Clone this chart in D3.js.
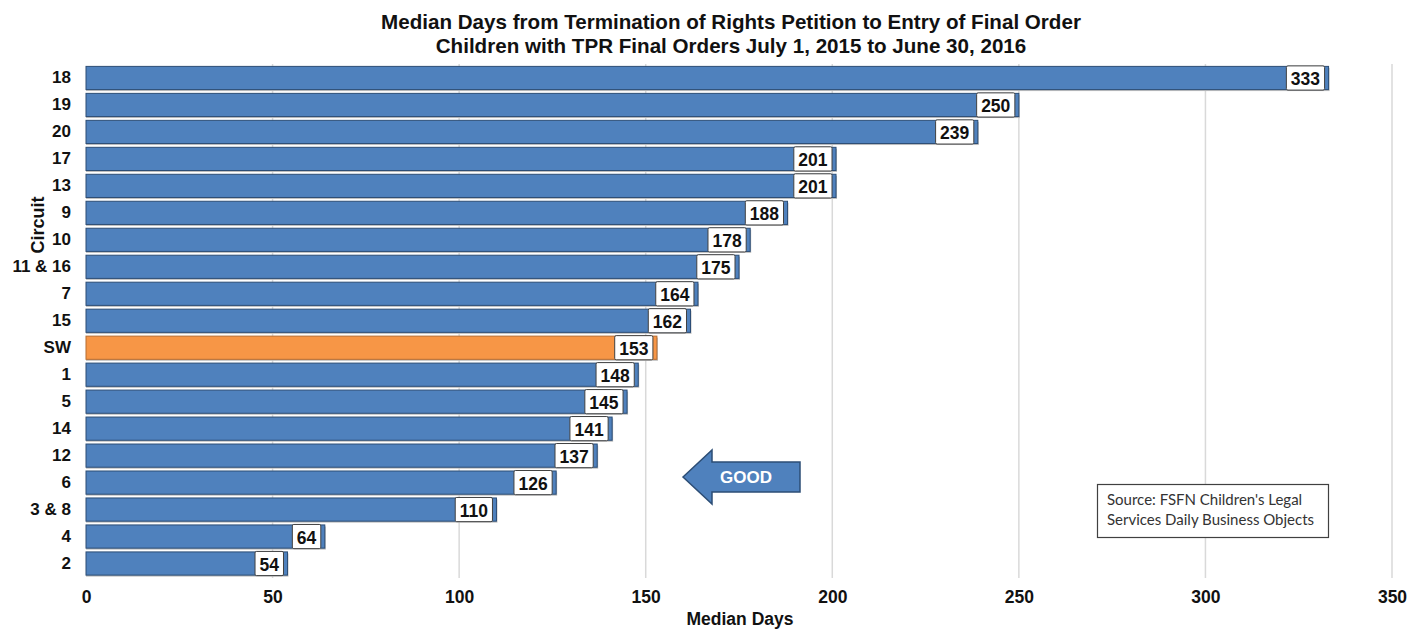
<!DOCTYPE html>
<html><head><meta charset="utf-8">
<script src="https://cdn.jsdelivr.net/npm/d3@7"></script>
<style>body{margin:0;background:#fff;}svg{display:block;}</style>
</head><body>
<script>
const categories = ["18","19","20","17","13","9","10","11 & 16","7","15","SW","1","5","14","12","6","3 & 8","4","2"];
const values = [333,250,239,201,201,188,178,175,164,162,153,148,145,141,137,126,110,64,54];
const highlight = ["SW"];
const xTicks = [0,50,100,150,200,250,300,350];
const titleLines = ["Median Days from Termination of Rights Petition to Entry of Final Order","Children with TPR Final Orders July 1, 2015 to June 30, 2016"];
const sourceLines = ["Source: FSFN Children's Legal","Services Daily Business Objects"];

const W=1424,H=629;
const svg=d3.select("body").append("svg").attr("width",W).attr("height",H);
const font="'Liberation Sans', Arial, sans-serif";
const x=d3.scaleLinear().domain([0,350]).range([86,1392]);
const y=d3.scaleBand().domain(categories).range([64.5,577]).paddingInner(0.14).paddingOuter(0.07);

// title
svg.append("g").selectAll("text").data(titleLines).join("text")
 .attr("x",731).attr("y",(d,i)=>29+i*23.5).attr("text-anchor","middle")
 .attr("font-family",font).attr("font-weight","bold").attr("font-size",20.6).attr("fill","#111").text(d=>d);

// gridlines
svg.append("g").selectAll("line").data(xTicks.filter(t=>t>0)).join("line")
 .attr("x1",d=>x(d)).attr("x2",d=>x(d)).attr("y1",64).attr("y2",578)
 .attr("stroke","#d9d9d9").attr("stroke-width",1.5);

// x axis
const xa=svg.append("g").attr("transform","translate(0,578)")
 .call(d3.axisBottom(x).tickValues(xTicks).tickSize(0).tickPadding(13));
xa.select(".domain").remove();
xa.selectAll("text").attr("font-family",font).attr("font-weight","bold").attr("font-size",17.5).attr("fill","#111");

// y axis
const ya=svg.append("g").attr("transform","translate(71,0)")
 .call(d3.axisLeft(y).tickSize(0).tickPadding(0));
ya.select(".domain").remove();
ya.selectAll("text").attr("font-family",font).attr("font-weight","bold").attr("font-size",17).attr("fill","#111");

// axis titles
svg.append("text").attr("x",740).attr("y",625).attr("text-anchor","middle")
 .attr("font-family",font).attr("font-weight","bold").attr("font-size",17.5).attr("fill","#111").text("Median Days");
svg.append("text").attr("transform","translate(44,225) rotate(-90)").attr("text-anchor","middle")
 .attr("font-family",font).attr("font-weight","bold").attr("font-size",18).attr("fill","#111").text("Circuit");

// bars
const rows=categories.map((c,i)=>({c,v:values[i]}));
const g=svg.append("g");
g.selectAll("rect.sh").data(rows).join("rect").attr("class","sh")
 .attr("x",x(0)).attr("y",d=>y(d.c)+1.5).attr("width",d=>x(d.v)-x(0)+1).attr("height",y.bandwidth())
 .attr("fill","#bfbfbf");
g.selectAll("rect.bar").data(rows).join("rect").attr("class","bar")
 .attr("x",x(0)).attr("y",d=>y(d.c)).attr("width",d=>x(d.v)-x(0)).attr("height",y.bandwidth())
 .attr("fill",d=>highlight.includes(d.c)?"#f79646":"#4f81bd")
 .attr("stroke",d=>highlight.includes(d.c)?"#b66d31":"#2c4d75").attr("stroke-width",1);

// labels
const lab=svg.append("g").selectAll("g").data(rows).join("g");
lab.each(function(d){
  const gg=d3.select(this);
  const t=gg.append("text").attr("font-family",font).attr("font-weight","bold").attr("font-size",17.5)
    .attr("fill","#111").attr("text-anchor","middle").attr("dominant-baseline","central").text(d.v);
  const w=t.node().getComputedTextLength()+9;
  const right=x(d.v)-4;
  gg.insert("rect","text").attr("x",right-w).attr("y",y(d.c)-0.5).attr("width",w).attr("height",y.bandwidth()+1)
    .attr("fill","#fff").attr("stroke","#404040").attr("stroke-width",1).attr("rx",1.5);
  t.attr("x",right-w/2).attr("y",y(d.c)+y.bandwidth()/2+1);
});

// GOOD arrow
const tip=683, ay=477;
const arrow=[[tip,ay],[712,450],[712,462],[800,462],[800,492],[712,492],[712,504]];
svg.append("path").attr("d",d3.line()(arrow)+"Z").attr("fill","#4f81bd").attr("stroke","#2c4d75").attr("stroke-width",1.5);
svg.append("text").attr("x",746).attr("y",483).attr("text-anchor","middle")
 .attr("font-family",font).attr("font-weight","bold").attr("font-size",17).attr("fill","#fff").text("GOOD");

// source box
svg.append("rect").attr("x",1097.5).attr("y",484.5).attr("width",231).attr("height",53)
 .attr("fill","#fff").attr("stroke","#404040").attr("stroke-width",1.2);
svg.append("g").selectAll("text").data(sourceLines).join("text")
 .attr("x",1107).attr("y",(d,i)=>505+i*20).attr("font-family","Lato, sans-serif").attr("font-size",15)
 .attr("fill","#333").text(d=>d);
</script>
</body></html>
